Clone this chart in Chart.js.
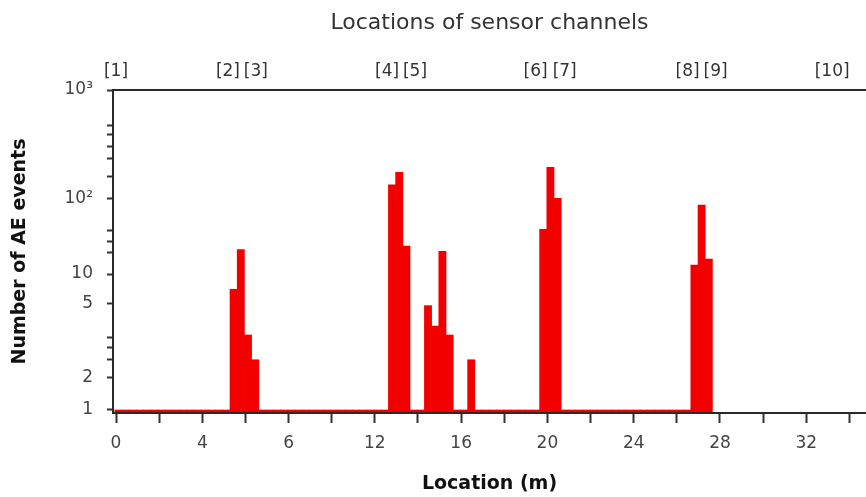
<!DOCTYPE html>
<html>
<head>
<meta charset="utf-8">
<title>Locations of sensor channels</title>
<script src="https://cdn.jsdelivr.net/npm/chart.js@4.4.1/dist/chart.umd.min.js"></script>
<style>
    html, body { margin: 0; padding: 0; background: #fff; }
</style>
</head>
<body>
<canvas id="aeChart" width="866" height="497"></canvas>
<script>
// histogram bins along the specimen (m)
const binStart = -0.056;
const binWidth = 0.3338;

// number of AE events per bin, left to right
const eventCounts = [
    1, 1, 1, 1, 1, 1, 1, 1, 1, 1,
    1, 1, 1, 1, 1, 1, 7, 21, 3.4, 2.5,
    1, 1, 1, 1, 1, 1, 1, 1, 1, 1,
    1, 1, 1, 1, 1, 1, 1, 1, 133, 174,
    23.4, 1, 1, 4.9, 3.8, 20, 3.4, 1, 1, 2.5,
    1, 1, 1, 1, 1, 1, 1, 1, 1, 39,
    193, 100, 1, 1, 1, 1, 1, 1, 1, 1,
    1, 1, 1, 1, 1, 1, 1, 1, 1, 1,
    13.1, 81.5, 15.8
];

// sensor channels (top axis)
const sensorPositions = [0, 5.19, 6.48, 12.57, 13.86, 19.45, 20.8, 26.5, 27.8, 33.2];
const sensorLabels = ['[1]', '[2]', '[3]', '[4]', '[5]', '[6]', '[7]', '[8]', '[9]', '[10]'];

// bottom axis ticks (labels as printed on the original)
const xTickValues = [0, 2, 4, 6, 8, 10, 12, 14, 16, 18, 20, 22, 24, 26, 28, 30, 32, 34];
const xTickLabels = ['0', '4', '6', '12', '16', '20', '24', '28', '32'];

// left axis ticks
const yMajorValues = [1, 2, 5, 10, 100, 1000];
const yMajorLabels = ['1', '2', '5', '10', '10²', '10³'];
const yMinorValues = [2.5, 2.9, 3.3, 19.5, 27, 37, 160, 235, 300, 390, 475];

// the original count axis is not evenly logarithmic: it is log-linear
// between these values, each sitting at its own height (0 bottom, 1 top)
const Y_ANCHOR_VALUES = [0.9, 1, 2, 5, 10, 100, 1000];
const Y_ANCHOR_POS = [0, 0.0093, 0.1093, 0.3375, 0.4303, 0.6647, 1];

class AnchoredLogScale extends Chart.LinearScale {
    static id = 'anchoredLog';
    static defaults = {};

    decimalOf(value) {
        if (value == null || isNaN(value)) return NaN;
        if (value <= Y_ANCHOR_VALUES[0]) return Y_ANCHOR_POS[0];
        for (let i = 1; i < Y_ANCHOR_VALUES.length; i++) {
            if (value <= Y_ANCHOR_VALUES[i]) {
                const lo = Math.log10(Y_ANCHOR_VALUES[i - 1]);
                const hi = Math.log10(Y_ANCHOR_VALUES[i]);
                const t = (Math.log10(value) - lo) / (hi - lo);
                return Y_ANCHOR_POS[i - 1] + t * (Y_ANCHOR_POS[i] - Y_ANCHOR_POS[i - 1]);
            }
        }
        return Y_ANCHOR_POS[Y_ANCHOR_POS.length - 1];
    }

    getPixelForValue(value) {
        return this.getPixelForDecimal(this.decimalOf(value));
    }

    getValueForPixel(pixel) {
        const d = this.getDecimalForPixel(pixel);
        for (let i = 1; i < Y_ANCHOR_POS.length; i++) {
            if (d <= Y_ANCHOR_POS[i]) {
                const t = (d - Y_ANCHOR_POS[i - 1]) / (Y_ANCHOR_POS[i] - Y_ANCHOR_POS[i - 1]);
                const lo = Math.log10(Y_ANCHOR_VALUES[i - 1]);
                const hi = Math.log10(Y_ANCHOR_VALUES[i]);
                return Math.pow(10, lo + t * (hi - lo));
            }
        }
        return Y_ANCHOR_VALUES[Y_ANCHOR_VALUES.length - 1];
    }
}
Chart.register(AnchoredLogScale);

Chart.defaults.font.family = "'DejaVu Sans', sans-serif";

const axisLine = { display: true, color: '#2a2a2a', width: 2, z: 1 };
const tickFont = { family: "'DejaVu Sans', sans-serif", size: 17 };

const chart = new Chart(document.getElementById('aeChart'), {
    type: 'bar',
    data: {
        datasets: [{
            data: eventCounts.map((n, i) => ({ x: binStart + (i + 0.5) * binWidth, y: n })),
            backgroundColor: '#f20000',
            borderWidth: 0,
            barPercentage: 1,
            categoryPercentage: 1,
            xAxisID: 'x',
            yAxisID: 'y'
        }]
    },
    options: {
        responsive: false,
        animation: false,
        events: [],
        layout: { padding: 0 },
        plugins: {
            legend: { display: false },
            tooltip: { enabled: false }
        },
        scales: {
            x: {
                type: 'linear',
                position: 'bottom',
                min: -0.14,
                max: 34.77,
                offset: false,
                afterBuildTicks: (s) => { s.ticks = xTickValues.map(v => ({ value: v })); },
                afterFit: (s) => { s.height = 84; },
                ticks: {
                    autoSkip: false,
                    maxRotation: 0,
                    padding: 10,
                    color: '#444',
                    font: tickFont,
                    callback: (value) => value % 4 === 0 ? xTickLabels[value / 4] : ''
                },
                grid: { drawOnChartArea: false, offset: false, tickLength: 10, tickWidth: 2, tickColor: '#333' },
                border: axisLine,
                title: {
                    display: true,
                    text: 'Location (m)',
                    color: '#111',
                    font: { size: 19, weight: 'bold' },
                    padding: { top: 0, bottom: 2 }
                }
            },
            x2: {
                type: 'linear',
                position: 'top',
                min: -0.14,
                max: 34.77,
                offset: false,
                afterBuildTicks: (s) => { s.ticks = sensorPositions.map(v => ({ value: v })); },
                afterFit: (s) => { s.height = 90; },
                ticks: {
                    autoSkip: false,
                    maxRotation: 0,
                    padding: 8,
                    color: '#333',
                    font: { size: 17 },
                    callback: (value, index) => sensorLabels[index]
                },
                grid: { display: false, drawTicks: false, offset: false },
                border: axisLine,
                title: {
                    display: true,
                    text: 'Locations of sensor channels',
                    color: '#333',
                    font: { size: 22 },
                    padding: { top: 10, bottom: 0 }
                }
            },
            y: {
                type: 'anchoredLog',
                position: 'left',
                min: 0.9,
                max: 1000,
                beginAtZero: false,
                afterBuildTicks: (s) => {
                    s.ticks = yMajorValues.concat(yMinorValues)
                        .sort((a, b) => a - b)
                        .map(v => ({ value: v }));
                },
                afterFit: (s) => { s.width = 113; },
                ticks: {
                    autoSkip: false,
                    padding: 14,
                    color: '#444',
                    font: tickFont,
                    callback: (value) => {
                        const i = yMajorValues.indexOf(value);
                        return i >= 0 ? yMajorLabels[i] : '';
                    }
                },
                grid: { drawOnChartArea: false, tickLength: 6, tickWidth: 2, tickColor: '#333' },
                border: axisLine,
                title: {
                    display: true,
                    text: 'Number of AE events',
                    color: '#111',
                    font: { size: 19, weight: 'bold' },
                    padding: { top: 9, bottom: 0 }
                }
            }
        }
    }
});
</script>
</body>
</html>
